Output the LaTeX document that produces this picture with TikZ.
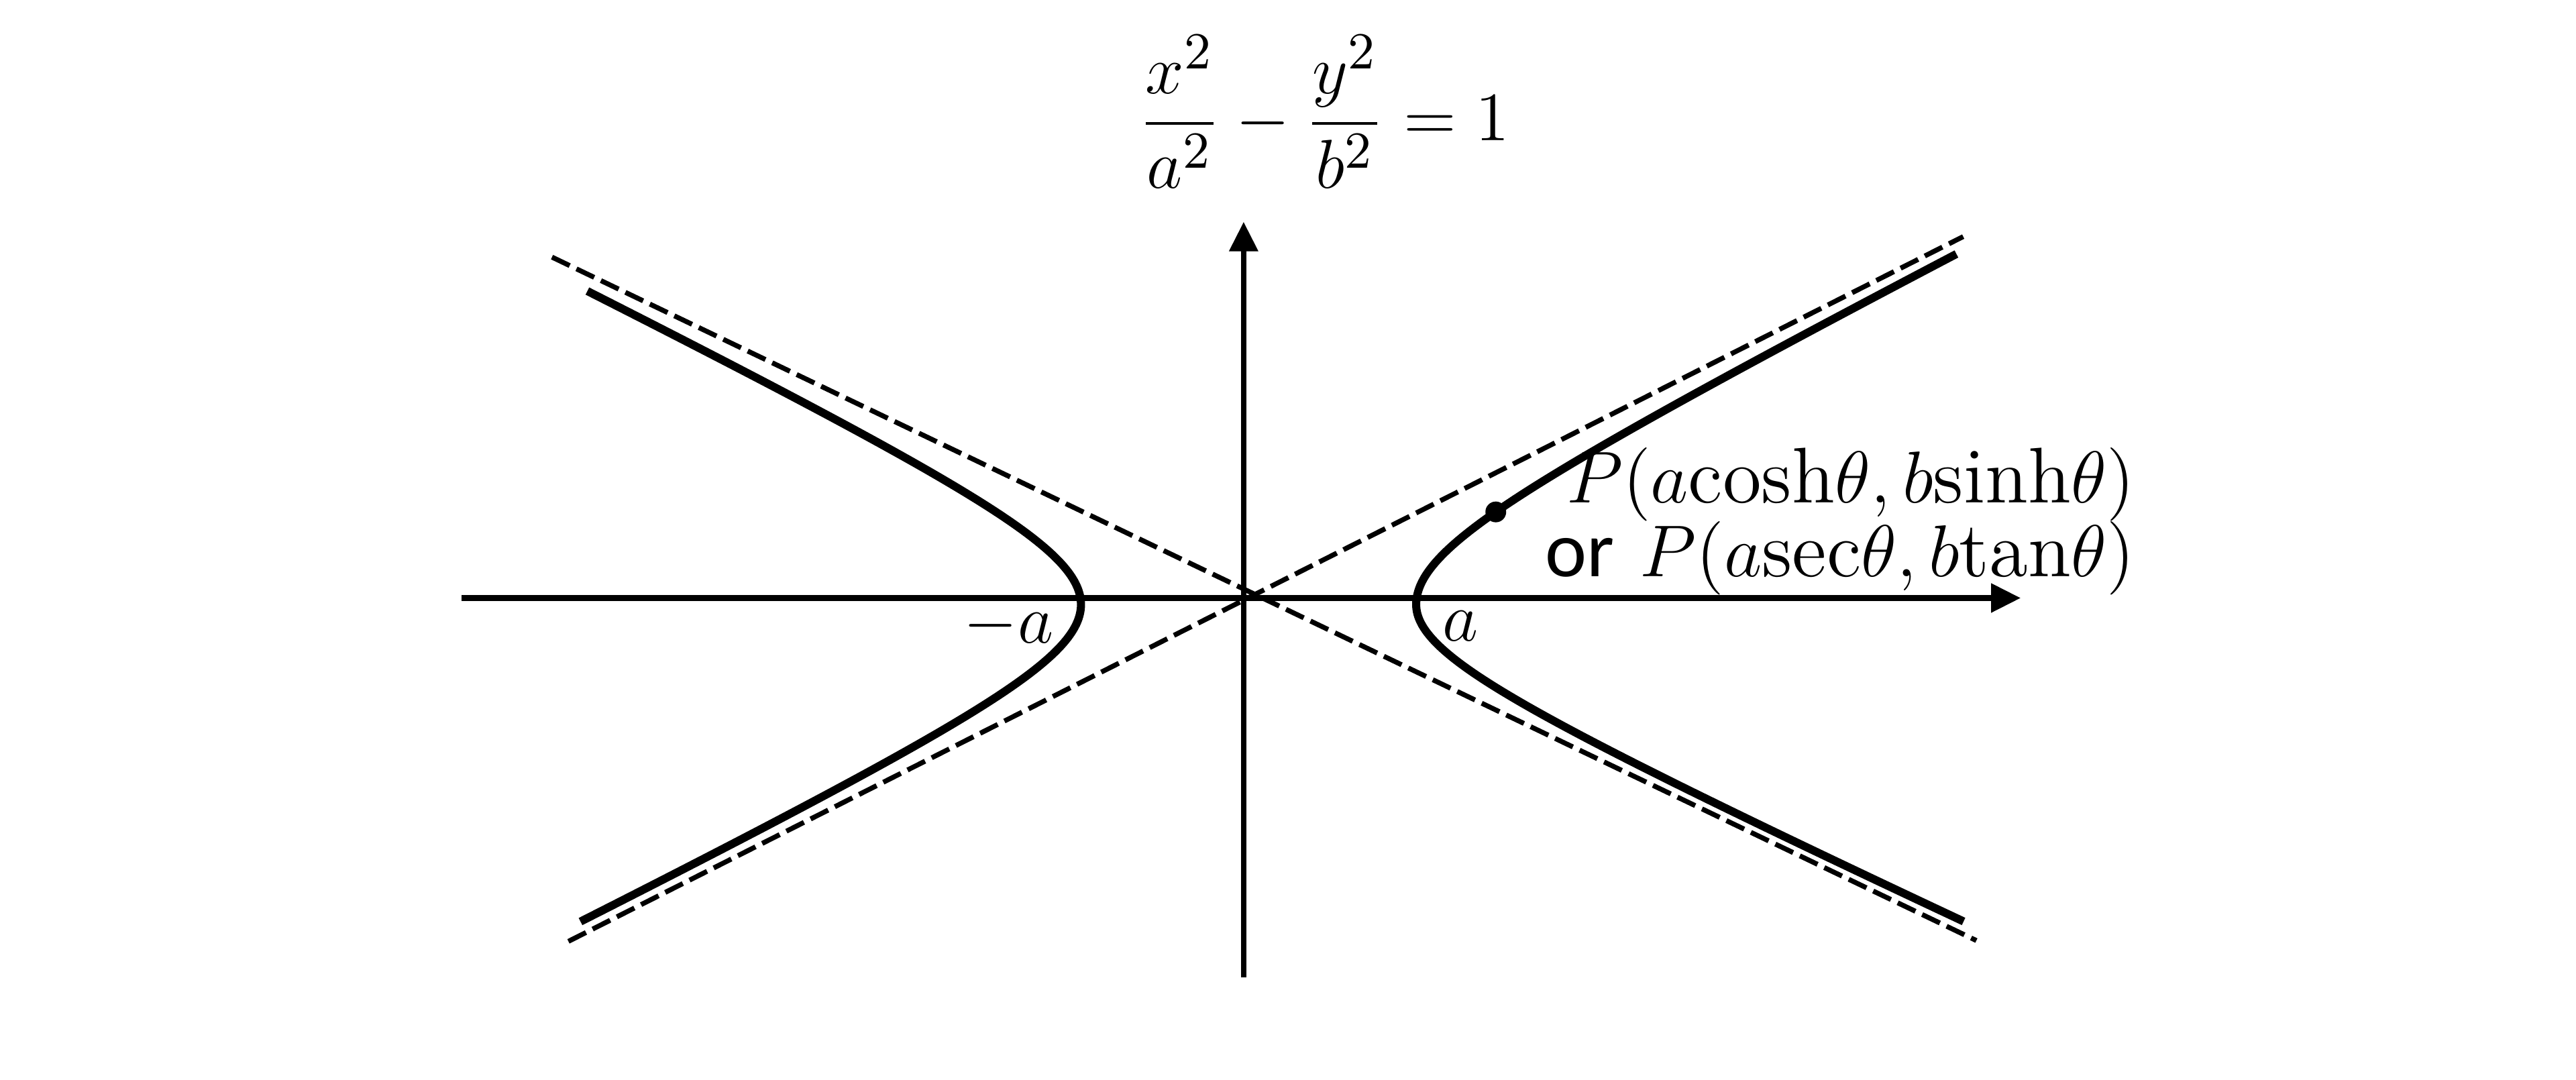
\documentclass[tikz,border=0pt]{standalone}
\usepackage{fontspec}
\setsansfont{Carlito}
\usetikzlibrary{arrows.meta}
\begin{document}
\begin{tikzpicture}[x=1cm,y=1cm,
    eje/.style={-{Triangle[length=1.8mm,width=1.7mm]},line width=1pt},
    rama/.style={line width=1.4pt},
    asint/.style={line width=0.85pt,dash pattern=on 3.4pt off 1.3pt},
    etiq/.style={font=\fontsize{12.5}{15}\selectfont,inner sep=0pt},
    etiqP/.style={font=\fontsize{12.9}{15}\selectfont,inner sep=0pt,anchor=base east}]
    \useasboundingbox (-7.57,-2.93) rectangle (8.11,3.64);

    % Ejes
    \coordinate (xini) at (-4.76,0);
    \coordinate (xfin) at (4.73,0);
    \coordinate (yini) at (0,-2.31);
    \coordinate (yfin) at (0,2.29);
    \draw[eje] (xini) -- (xfin);
    \draw[eje] (yini) -- (yfin);

    % Asintotas
    \coordinate (asa) at (-4.21,2.075);
    \coordinate (asb) at (4.46,-2.085);
    \coordinate (asc) at (-4.11,-2.09);
    \coordinate (asd) at (4.38,2.20);
    \draw[asint] (asa) -- (asb);
    \draw[asint] (asc) -- (asd);

    % Hiperbola
    \begin{scope}[shift={(0.03,-0.04)}]
        \draw[rama] plot[domain=-2.13:0,samples=50,smooth] ({1.02*cosh(\x)},{0.465*sinh(\x)})
            -- plot[domain=0:2.12,samples=50,smooth] ({1.02*cosh(\x)},{0.52*sinh(\x)});
        \draw[rama] plot[domain=-2.06:2.05,samples=80,smooth] ({-1.02*cosh(\x)},{0.5*sinh(\x)});
        \coordinate (P) at ({1.02*cosh(0.94)},{0.52*sinh(0.94)});
        \fill (P) circle (1.8pt);
    \end{scope}

    % Etiquetas
    \node[etiq] (ecuacion) at (0.49,2.96) {$\displaystyle\frac{x^2}{a^2}-\frac{y^2}{b^2}=1$};
    \node[etiq] (lblna) at (-1.43,-0.17) {$-a$};
    \node[etiq] (lbla) at (1.32,-0.17) {$a$};
    \node[etiqP] (lblP1) at (5.43,0.58) {\scalebox{1.06}{$P(a\mathrm{cosh}\theta,b\mathrm{sinh}\theta)$}};
    \node[etiqP] (lblP2) at (5.43,0.13) {\scalebox{1.06}{\textsf{or} $P(a\mathrm{sec}\theta,b\mathrm{tan}\theta)$}};
\end{tikzpicture}
\end{document}
